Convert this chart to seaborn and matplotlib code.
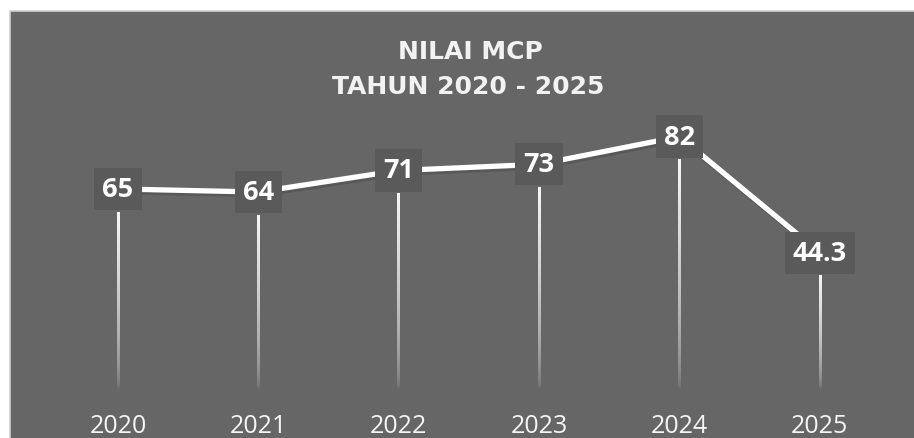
import numpy as np
import pandas as pd
import matplotlib
matplotlib.use("Agg")
import matplotlib.pyplot as plt
import seaborn as sns
from matplotlib.patches import Rectangle
import matplotlib.transforms as mtransforms

years = ["2020", "2021", "2022", "2023", "2024", "2025"]
values = [65, 64, 71, 73, 82, 44.3]
labels = ["65", "64", "71", "73", "82", "44.3"]
title_lines = ["NILAI MCP", "TAHUN 2020 - 2025"]

sns.set_theme(style="white")
plt.rcParams["font.family"] = ["Open Sans", "DejaVu Sans"]

W, H = 914, 439
fig = plt.figure(figsize=(W / 100, H / 100), dpi=100, facecolor="white")

# panel background
panel = Rectangle((10 / W, -0.01), (W - 10) / W + 0.01, (H - 12) / H + 0.01, transform=fig.transFigure,
                  facecolor="#666666", edgecolor="#d0d0d0", linewidth=1.2, zorder=-10)
fig.patches.append(panel)

ax = fig.add_axes([47.8 / W, (H - 390) / H, (890 - 47.8) / W, 277 / H])
ax.set_facecolor("none")
ax.set_zorder(1)

df = pd.DataFrame({"pos": np.arange(len(years)), "value": values})

# drop lines with fading gradient (drawn as thin gradient images)
n = 256
t = np.linspace(1, 0, n)
grad = np.zeros((n, 1, 4))
grad[:, 0, :3] = 1.0
grad[:, 0, 3] = 0.95 * t ** 0.55
half_w = 1.25 / 140.4
for x, v in zip(df["pos"], df["value"]):
    top = v - 7.5
    ax.imshow(grad, extent=[x - half_w, x + half_w, 0, top], aspect="auto",
              interpolation="bilinear", zorder=1, origin="upper")

# shadow line
sns.lineplot(data=df, x="pos", y="value", ax=ax, color="#4f4f4f", linewidth=4.0,
             alpha=0.6, zorder=2, legend=False)
ax.lines[-1].set_transform(ax.transData + mtransforms.ScaledTranslation(1.5 / 100, -2.5 / 100, fig.dpi_scale_trans))
sns.lineplot(data=df, x="pos", y="value", ax=ax, color="white", linewidth=3.8,
             zorder=3, legend=False)

for x, v, lab in zip(df["pos"], df["value"], labels):
    ax.text(x, v, lab, ha="center", va="center", color="white", fontsize=19.5,
            fontweight="bold", zorder=5,
            bbox=dict(boxstyle="square,pad=0.3", facecolor="#5a5a5a", edgecolor="none"))

ax.set_xlim(-0.5, len(years) - 0.5)
ax.set_ylim(0, 90)
ax.set_xticks(df["pos"])
ax.set_xticklabels(years, color="#f5f5f5", fontsize=18)
ax.tick_params(axis="x", length=0, pad=17)
ax.set_yticks([])
ax.set_xlabel("")
ax.set_ylabel("")
for s in ax.spines.values():
    s.set_visible(False)

fig.text(470 / W, 1 - 52 / H, title_lines[0], ha="center", va="center", color="#f2f2f2",
         fontsize=18, fontweight="bold", family=["DejaVu Sans"])
fig.text(468 / W, 1 - 87.5 / H, title_lines[1], ha="center", va="center", color="#f2f2f2",
         fontsize=18, fontweight="bold", family=["DejaVu Sans"])

fig.savefig("out.png", dpi=100, facecolor="white")
